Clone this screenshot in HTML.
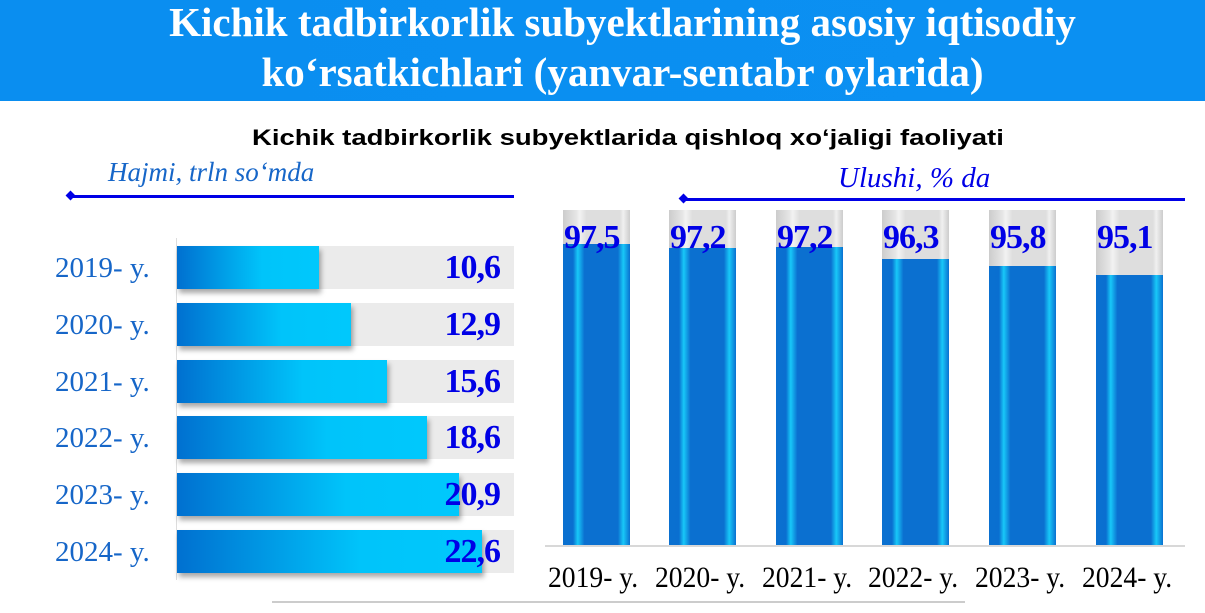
<!DOCTYPE html>
<html><head><meta charset="utf-8"><style>
body{margin:0;width:1205px;height:613px;background:#fff;position:relative;overflow:hidden;font-family:"Liberation Serif",serif}
.a{position:absolute;white-space:nowrap}
.hdr{left:0;top:0;width:1205px;height:101px;background:linear-gradient(90deg,#0a8ef0,#0b90f2)}
.t{color:#fff;font-weight:bold;font-size:41px;width:1205px;text-align:center;left:20px;line-height:50px}
.row{left:177px;width:337px;height:43px;background:#ebebeb}
.bar{left:177px;height:43px;background:linear-gradient(90deg,#0070d0,#00c4fa 60%,#00c8fc);box-shadow:2px 4px 5px rgba(0,0,0,.35)}
.yl{left:55px;font-size:29px;color:#1666c8;line-height:30px}
.v{right:705px;font-size:34px;font-weight:bold;color:#0000e6;text-align:right;line-height:36px;letter-spacing:-1px}
.col{width:67px;top:210px;height:335px;background:linear-gradient(90deg,#ccc,#e6e6e6 20%,#f2f2f2 25%,#dedede 35%,#dedede 85%,#f0f0f0 90%,#ccc)}
.cb{width:67px;background:linear-gradient(90deg,#0a70d0,#0a6fd0 15%,#18c8f8 22%,#0b70d0 32%,#0b70d0 82%,#18c8f8 90%,#0a70d0)}
.cv{font-size:34px;font-weight:bold;color:#0000e6;line-height:36px;letter-spacing:-1px}
.xl{top:561px;font-size:30px;color:#000;transform:scaleX(0.92);transform-origin:left}
</style></head><body>
<div class="a hdr"></div>
<div class="a t" style="top:-3px">Kichik tadbirkorlik subyektlarining asosiy iqtisodiy</div>
<div class="a t" style="top:47px">ko‘rsatkichlari (yanvar-sentabr oylarida)</div>
<div class="a" style="left:252px;top:125px;font-family:'Liberation Sans',sans-serif;font-weight:bold;font-size:22px;transform:scaleX(1.25);transform-origin:left">Kichik tadbirkorlik subyektlarida qishloq xo‘jaligi faoliyati</div>
<div class="a" style="left:108px;top:157px;font-style:italic;font-size:27px;color:#1666c8">Hajmi, trln so‘mda</div>
<div class="a" style="left:72px;top:195px;width:442px;height:3px;background:#0000e6"></div>
<div class="a" style="left:67px;top:192px;width:7px;height:7px;background:#0000e6;transform:rotate(45deg)"></div>
<div class="a" style="left:838px;top:162px;font-style:italic;font-size:29px;color:#0000e6">Ulushi, % da</div>
<div class="a" style="left:685px;top:198px;width:500px;height:3px;background:#0000e6"></div>
<div class="a" style="left:680px;top:195px;width:7px;height:7px;background:#0000e6;transform:rotate(45deg)"></div>
<div class="a" style="left:176px;top:238px;width:1px;height:342px;background:#ddd"></div>

<div class="a row" style="top:246px"></div><div class="a bar" style="top:246px;width:142px"></div><div class="a yl" style="top:253px">2019- y.</div><div class="a v" style="top:250px">10,6</div>
<div class="a row" style="top:303px"></div><div class="a bar" style="top:303px;width:174px"></div><div class="a yl" style="top:310px">2020- y.</div><div class="a v" style="top:307px">12,9</div>
<div class="a row" style="top:360px"></div><div class="a bar" style="top:360px;width:210px"></div><div class="a yl" style="top:367px">2021- y.</div><div class="a v" style="top:364px">15,6</div>
<div class="a row" style="top:416px"></div><div class="a bar" style="top:416px;width:250px"></div><div class="a yl" style="top:423px">2022- y.</div><div class="a v" style="top:420px">18,6</div>
<div class="a row" style="top:473px"></div><div class="a bar" style="top:473px;width:282px"></div><div class="a yl" style="top:480px">2023- y.</div><div class="a v" style="top:477px">20,9</div>
<div class="a row" style="top:530px"></div><div class="a bar" style="top:530px;width:305px"></div><div class="a yl" style="top:537px">2024- y.</div><div class="a v" style="top:534px">22,6</div>

<div class="a" style="left:545px;top:545px;width:640px;height:2px;background:#d8d8d8"></div>
<div class="a col" style="left:563px"></div><div class="a cb" style="left:563px;top:244px;height:301px"></div><div class="a cv" style="left:564px;top:220px">97,5</div>
<div class="a col" style="left:669px"></div><div class="a cb" style="left:669px;top:248px;height:297px"></div><div class="a cv" style="left:670px;top:220px">97,2</div>
<div class="a col" style="left:776px"></div><div class="a cb" style="left:776px;top:247px;height:298px"></div><div class="a cv" style="left:777px;top:220px">97,2</div>
<div class="a col" style="left:882px"></div><div class="a cb" style="left:882px;top:259px;height:286px"></div><div class="a cv" style="left:883px;top:220px">96,3</div>
<div class="a col" style="left:989px"></div><div class="a cb" style="left:989px;top:266px;height:279px"></div><div class="a cv" style="left:990px;top:220px">95,8</div>
<div class="a col" style="left:1096px"></div><div class="a cb" style="left:1096px;top:275px;height:270px"></div><div class="a cv" style="left:1097px;top:220px">95,1</div>
<div class="a xl" style="left:548px">2019- y.</div>
<div class="a xl" style="left:655px">2020- y.</div>
<div class="a xl" style="left:762px">2021- y.</div>
<div class="a xl" style="left:868px">2022- y.</div>
<div class="a xl" style="left:975px">2023- y.</div>
<div class="a xl" style="left:1082px">2024- y.</div>
<div class="a" style="left:272px;top:601px;width:693px;height:2px;background:#ccc"></div>
</body></html>
